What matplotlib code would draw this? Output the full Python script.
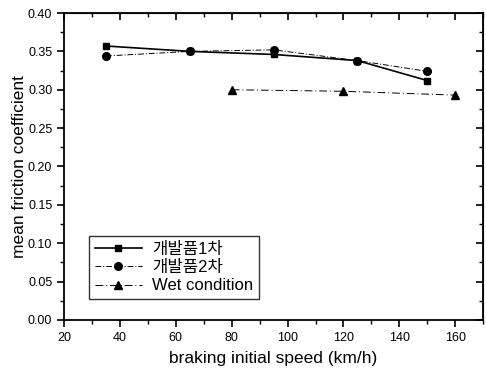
import matplotlib
matplotlib.use("Agg")
import matplotlib.pyplot as plt
from matplotlib.ticker import MultipleLocator

plt.rcParams['font.family'] = ['Liberation Sans', 'Noto Sans CJK KR', 'DejaVu Sans']

# data
speed_1 = [35, 65, 95, 125, 150]
mu_1 = [0.357, 0.350, 0.346, 0.338, 0.312]
speed_2 = [35, 65, 95, 125, 150]
mu_2 = [0.344, 0.350, 0.352, 0.338, 0.324]
speed_wet = [80, 120, 160]
mu_wet = [0.300, 0.298, 0.293]

labels = ["개발품1차", "개발품2차", "Wet condition"]

fig = plt.figure(figsize=(4.86, 3.72), dpi=100)
ax = fig.add_axes([0.132, 0.14, 0.862, 0.825])

ax.plot(speed_1, mu_1, color='black', linestyle='-', linewidth=1.2,
        marker='s', markersize=5, label=labels[0])
ax.plot(speed_2, mu_2, color='black', linestyle=(0, (6, 2, 1, 2)), linewidth=0.7,
        marker='o', markersize=5.5, label=labels[1])
ax.plot(speed_wet, mu_wet, color='black', linestyle=(0, (8, 3, 1, 3)), linewidth=0.7,
        marker='^', markersize=5.5, label=labels[2])

ax.set_xlim(20, 170)
ax.set_ylim(0, 0.40)
ax.xaxis.set_minor_locator(MultipleLocator(10))
ax.yaxis.set_major_locator(MultipleLocator(0.05))
ax.yaxis.set_minor_locator(MultipleLocator(0.025))
ax.set_xticks(range(20, 161, 20))
ax.set_xticklabels([str(v) for v in range(20, 161, 20)])
ax.yaxis.set_major_formatter(plt.FormatStrFormatter('%.2f'))

ax.tick_params(which='major', direction='out', length=5, width=1.2, labelsize=9)
ax.tick_params(which='minor', direction='out', length=3, width=1)
for s in ax.spines.values():
    s.set_linewidth(1.3)

top = ax.secondary_xaxis('top')
top.xaxis.set_major_locator(MultipleLocator(20))
top.xaxis.set_minor_locator(MultipleLocator(10))
top.tick_params(which='major', direction='in', length=5, width=1.2, labeltop=False)
top.tick_params(which='minor', direction='in', length=3, width=1)
right = ax.secondary_yaxis('right')
right.yaxis.set_major_locator(MultipleLocator(0.05))
right.yaxis.set_minor_locator(MultipleLocator(0.025))
right.tick_params(which='major', direction='in', length=5, width=1.2, labelright=False)
right.tick_params(which='minor', direction='in', length=3, width=1)

ax.set_xlabel("braking initial speed (km/h)", fontsize=12.5, labelpad=5)
ax.set_ylabel("mean friction coefficient", fontsize=12.5, labelpad=1)

leg = ax.legend(loc='lower left', bbox_to_anchor=(0.04, 0.04), fontsize=12,
                frameon=True, fancybox=False, edgecolor='black',
                handlelength=2.8, borderpad=0.35, labelspacing=0.2,
                handletextpad=0.6)
leg.get_frame().set_linewidth(1.0)

fig.savefig("out.png", dpi=100)
